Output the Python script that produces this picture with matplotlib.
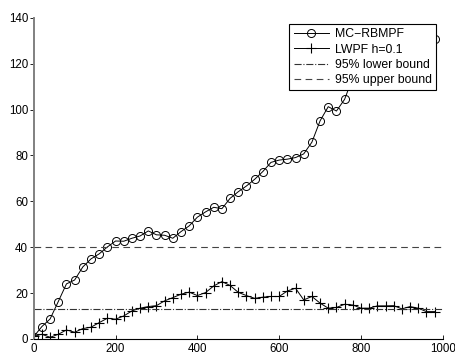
import numpy as np
import matplotlib
matplotlib.use("Agg")
import matplotlib.pyplot as plt

plt.rcParams['font.family'] = ['Liberation Sans', 'DejaVu Sans']

# time steps
steps = list(range(0, 1000, 20))

# MC-RBMPF error (values behind the legend are guessed)
mc_rbmpf = [1.0, 5.4, 8.7, 16.3, 24.0, 25.7, 31.4, 34.9, 37.1, 40.1,
            42.7, 42.6, 43.9, 44.9, 47.1, 45.4, 45.2, 43.9, 46.8, 49.3,
            53.1, 55.4, 57.4, 56.8, 61.3, 64.2, 66.7, 69.6, 73.0, 77.0,
            78.0, 78.4, 79.1, 80.7, 85.8, 95.1, 101.3, 99.4, 104.5, 114.0,
            116.0, 118.0, 120.0, 122.0, 124.0, 126.0, 127.0, 128.5, 130.0, 131.0]

# LWPF h=0.1 error
lwpf = [1.3, 2.0, 0.7, 2.0, 3.9, 2.9, 4.5, 5.1, 7.1, 9.0,
        8.6, 10.0, 12.2, 13.4, 14.1, 14.5, 16.6, 18.0, 19.5, 20.4,
        18.9, 20.2, 23.1, 25.0, 23.3, 20.3, 18.9, 17.7, 18.2, 18.5,
        18.5, 20.9, 22.1, 17.0, 18.5, 15.6, 13.4, 13.7, 15.1, 14.8,
        13.4, 13.4, 14.4, 14.4, 14.5, 13.1, 14.1, 13.4, 11.9, 11.9]

lower_bound = 12.9
upper_bound = 40.3

fig = plt.figure(figsize=(4.56, 3.59), dpi=100)
ax = fig.add_axes([0.074, 0.056, 0.897, 0.894])

ax.plot(steps, mc_rbmpf, '-o', color='black', lw=0.7, ms=5.8,
        mfc='none', mec='black', mew=0.7, label='MC\u2212RBMPF')
ax.plot(steps, lwpf, '-+', color='black', lw=0.7, ms=6.5, mew=0.8,
        label='LWPF h=0.1')
ax.plot([0, 1000], [lower_bound, lower_bound], '-.', color='#333333',
        lw=0.8, label='95% lower bound')
ax.plot([0, 1000], [upper_bound, upper_bound], '--', color='#444444',
        lw=0.8, dashes=(6, 4), label='95% upper bound')

ax.set_xlim(0, 1000)
ax.set_ylim(0, 140)
ax.set_xticks(range(0, 1001, 200))
ax.set_yticks(range(0, 141, 20))

# box off, matlab style
ax.spines['top'].set_visible(False)
ax.spines['right'].set_visible(False)
ax.spines['left'].set_color('#808080')
ax.spines['left'].set_linewidth(1.4)
ax.spines['bottom'].set_linewidth(0.8)
ax.tick_params(axis='x', direction='in', length=3, width=0.6, labelsize=8.3, pad=3)
ax.tick_params(axis='y', direction='out', length=3, width=0.6, labelsize=8.3, pad=1)

leg = ax.legend(loc='upper right', bbox_to_anchor=(436 / 456, 1 - 24 / 359),
                bbox_transform=fig.transFigure, borderaxespad=0,
                fontsize=8.8, fancybox=False, framealpha=1, edgecolor='black',
                handlelength=2.9, handletextpad=0.45, labelspacing=0.27,
                borderpad=0.35)
leg.get_frame().set_linewidth(0.8)

fig.savefig('out.png', dpi=100)
